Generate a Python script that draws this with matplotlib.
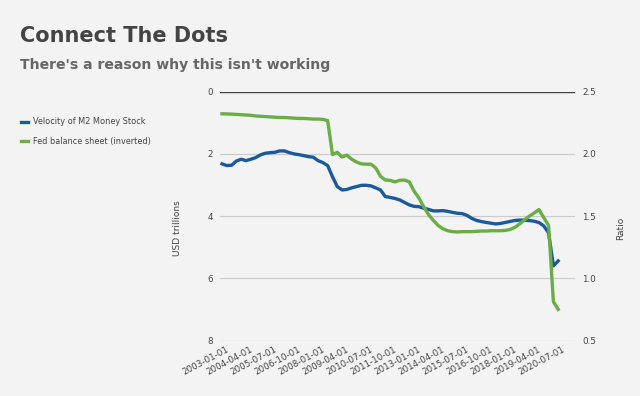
"""Connect The Dots: M2 velocity vs Fed balance sheet (inverted)"""
import matplotlib
matplotlib.use("Agg")
import matplotlib.pyplot as plt
import matplotlib.transforms as mtransforms
import pandas as pd

plt.rcParams["font.family"] = ["DejaVu Sans"]

# quarterly observations, 2003-01-01 .. 2020-07-01
quarters = pd.date_range("2003-01-01", "2020-07-01", freq="QS").strftime("%Y-%m-%d").tolist()

m2_velocity = [
    1.920, 1.906, 1.909, 1.943, 1.957, 1.946, 1.957, 1.970, 1.992, 2.005,
    2.010, 2.013, 2.024, 2.024, 2.010, 2.000, 1.994, 1.986, 1.978, 1.973,
    1.946, 1.930, 1.906, 1.817, 1.737, 1.710, 1.714, 1.727, 1.737, 1.747,
    1.748, 1.743, 1.727, 1.710, 1.657, 1.650, 1.642, 1.630, 1.610, 1.590,
    1.578, 1.576, 1.563, 1.554, 1.542, 1.542, 1.544, 1.538, 1.530, 1.523,
    1.520, 1.506, 1.482, 1.465, 1.456, 1.449, 1.443, 1.437, 1.441, 1.449,
    1.457, 1.465, 1.468, 1.467, 1.464, 1.459, 1.448, 1.421, 1.365, 1.100,
    1.140,
]

fed_balance = [
    0.71, 0.715, 0.72, 0.73, 0.74, 0.75, 0.76, 0.78, 0.79, 0.80,
    0.81, 0.82, 0.83, 0.83, 0.84, 0.85, 0.86, 0.86, 0.87, 0.88,
    0.88, 0.89, 0.93, 2.02, 1.95, 2.10, 2.04, 2.17, 2.26, 2.32,
    2.33, 2.33, 2.45, 2.72, 2.84, 2.85, 2.90, 2.85, 2.84, 2.90,
    3.20, 3.42, 3.70, 3.95, 4.14, 4.30, 4.41, 4.47, 4.50, 4.51,
    4.50, 4.50, 4.50, 4.49, 4.48, 4.48, 4.47, 4.47, 4.47, 4.46,
    4.43, 4.36, 4.25, 4.12, 4.00, 3.90, 3.79, 4.05, 4.30, 6.75,
    7.00,
]

BG = "#f3f3f3"
BLUE = "#1a5a9a"
GREEN = "#6aad47"
TEXT = "#444444"

x = list(range(len(quarters)))

fig = plt.figure(figsize=(6.4, 3.96), dpi=100, facecolor=BG)
ax = fig.add_axes([220 / 640, 1 - 340.5 / 396, 355 / 640, 248.8 / 396])
ax.set_facecolor(BG)
ax2 = ax.twinx()

# blue on the ratio axis (right side), green on the trillions axis (left side, inverted)
ln1 = ax.plot(x, m2_velocity, color=BLUE, linewidth=2.4, label="Velocity of M2 Money Stock")
ln2 = ax2.plot(x, fed_balance, color=GREEN, linewidth=2.4, label="Fed balance sheet (inverted)")

ax.set_ylim(0.5, 2.5)
ax.set_yticks([0.5, 1.0, 1.5, 2.0, 2.5])
ax.set_yticklabels(["0.5", "1.0", "1.5", "2.0", "2.5"])
ax.yaxis.tick_right()
ax.yaxis.set_label_position("right")
ax.set_ylabel("Ratio", fontsize=6.5, color=TEXT)
ax.yaxis.set_label_coords(1.115, 0.45)

ax2.set_ylim(8, 0)
ax2.set_yticks([0, 2, 4, 6, 8])
ax2.yaxis.tick_left()
ax2.yaxis.set_label_position("left")
ax2.set_ylabel("USD trillions", fontsize=6.5, color=TEXT)
ax2.yaxis.set_label_coords(-0.108, 0.45)

ax.set_xlim(-0.42, 73.5)
ax.set_xticks(x[::5])
ax.set_xticklabels(quarters[::5], rotation=28, ha="right", rotation_mode="anchor")

for a in (ax, ax2):
    for s in a.spines.values():
        s.set_visible(False)
    a.tick_params(length=0, labelsize=6.3, colors=TEXT, pad=5)
ax.tick_params(axis="x", pad=3)
shift = mtransforms.ScaledTranslation(4 / 100, 0, fig.dpi_scale_trans)
for lbl in ax.get_xticklabels():
    lbl.set_transform(lbl.get_transform() + shift)

ax.grid(axis="y", color="#cccccc", linewidth=0.9)
ax.set_axisbelow(True)
ax.axhline(2.5, color="#444444", linewidth=1.0, zorder=1.5)

fig.text(20 / 640, 1 - 41.7 / 396, "Connect The Dots", fontsize=15, fontweight="bold",
         color="#444444", va="baseline")
fig.text(20 / 640, 1 - 69 / 396, "There's a reason why this isn't working", fontsize=10.1,
         fontweight="bold", color="#666666", va="baseline")

lns = ln1 + ln2
fig.legend(lns, [l.get_label() for l in lns], loc="upper left",
           bbox_to_anchor=(14 / 640, 1 - 110 / 396), frameon=False, fontsize=5.9,
           handlelength=0.8, handletextpad=0.6, labelspacing=1.25, labelcolor=TEXT)

fig.savefig("out.png", dpi=100, facecolor=BG)
